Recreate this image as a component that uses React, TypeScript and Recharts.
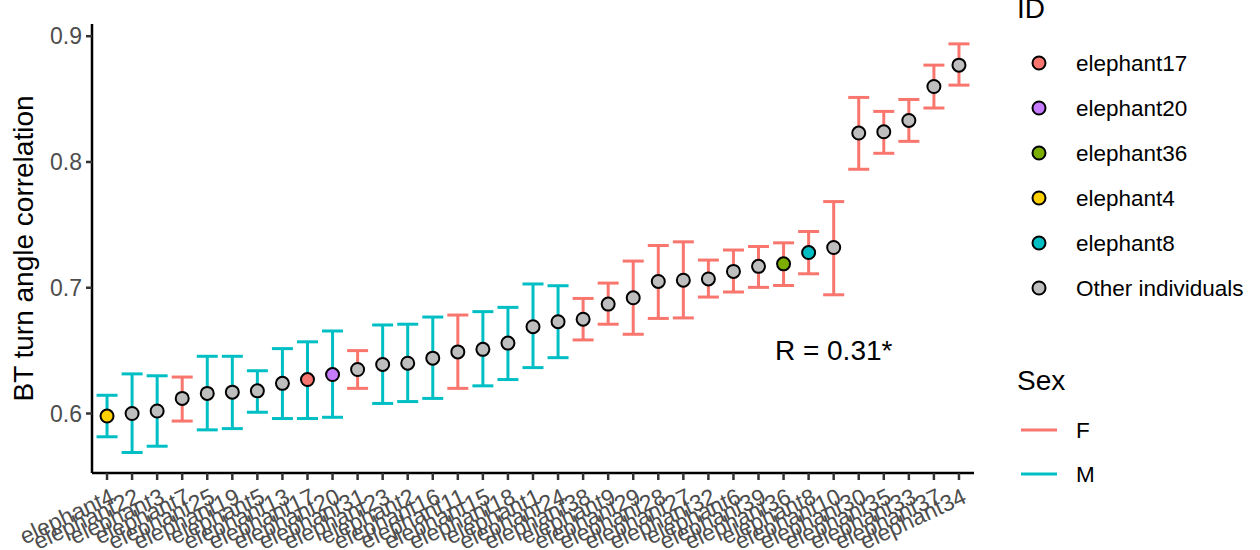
import React from 'react';
import { ComposedChart, Scatter, ErrorBar, XAxis, YAxis, ReferenceDot } from 'recharts';

const ids = ['elephant4','elephant22','elephant3','elephant7','elephant25','elephant19','elephant5','elephant13','elephant17','elephant20','elephant31','elephant23','elephant2','elephant16','elephant11','elephant15','elephant18','elephant1','elephant24','elephant38','elephant9','elephant29','elephant28','elephant27','elephant32','elephant6','elephant39','elephant36','elephant8','elephant10','elephant30','elephant35','elephant33','elephant37','elephant34'];
const sexes = ['M','M','M','F','M','M','M','M','M','M','F','M','M','M','F','M','M','M','M','F','F','F','F','F','F','F','F','F','F','F','F','F','F','F','F'];
const values = [0.598,0.600,0.602,0.612,0.616,0.617,0.618,0.624,0.627,0.631,0.635,0.639,0.640,0.644,0.649,0.651,0.656,0.669,0.673,0.675,0.687,0.692,0.705,0.706,0.707,0.713,0.717,0.719,0.728,0.732,0.823,0.824,0.833,0.860,0.877];
const lower = [0.5815,0.569,0.574,0.594,0.587,0.588,0.601,0.596,0.596,0.597,0.620,0.608,0.6095,0.612,0.620,0.622,0.627,0.6365,0.6444,0.6585,0.671,0.663,0.6756,0.676,0.6926,0.6966,0.7003,0.7018,0.7111,0.6944,0.7942,0.8069,0.8164,0.8429,0.8611];
const upper = [0.6145,0.6315,0.630,0.629,0.6455,0.6455,0.634,0.6516,0.657,0.6656,0.650,0.6704,0.671,0.6767,0.6783,0.681,0.6844,0.703,0.7016,0.6915,0.7037,0.7212,0.7336,0.7365,0.722,0.730,0.7328,0.7357,0.7447,0.7685,0.8513,0.8402,0.8497,0.877,0.8939];

const highlightIds = ['elephant17','elephant20','elephant36','elephant4','elephant8'];
const highlightColors = ['#F8766D','#C77CFF','#7CAE00','#FFD000','#00BFC4'];
const otherLabel = 'Other individuals';
const otherColor = '#BEBEBE';

const sexLevels = ['F','M'];
const sexColors = ['#F8766D','#00BFC4'];

const yTicks = [0.6, 0.7, 0.8, 0.9];
const annotation = 'R = 0.31*';
const annotX = 30;
const annotY = 0.65;

const FONT = '"Liberation Sans", Arial, Helvetica, sans-serif';

const rows = ids.map((id, i) => {
  const h = highlightIds.indexOf(id);
  return {
    idx: i + 1,
    id,
    sex: sexes[i],
    value: values[i],
    err: [values[i] - lower[i], upper[i] - values[i]],
    color: h >= 0 ? highlightColors[h] : otherColor,
  };
});

const xTicks = ids.map((_, i) => i + 1);

const XTick = (props: any) => {
  const { x, y, payload } = props;
  const label = ids[Math.round(payload.value) - 1] ?? '';
  return (
    <g transform={`translate(${x + 2},${y + 5})`}>
      <text
        x={0}
        y={0}
        dy="0.72em"
        textAnchor="end"
        transform="rotate(-25)"
        fill="#4D4D4D"
        fontSize={23}
        fontFamily={FONT}
      >
        {label}
      </text>
    </g>
  );
};

const Dot = (props: any) => {
  const { cx, cy, payload } = props;
  if (cx == null || cy == null) return <g />;
  return <circle cx={cx} cy={cy} r={6.5} fill={payload.color} stroke="#000" strokeWidth={2} />;
};

const Hidden = () => <g />;

const YTitle = (props: any) => {
  const vb = props.viewBox || { y: 24, height: 449 };
  const cy = vb.y + vb.height / 2;
  const cx = 23;
  return (
    <text
      x={cx}
      y={cy}
      transform={`rotate(-90, ${cx}, ${cy})`}
      textAnchor="middle"
      dominantBaseline="central"
      fontSize={28}
      fontFamily={FONT}
      fill="#000"
    >
      BT turn angle correlation
    </text>
  );
};

const Legends = () => {
  const legendItems = [...highlightIds, otherLabel];
  const legendCols = [...highlightColors, otherColor];
  return (
    <svg
      width={250}
      height={550}
      style={{ position: 'absolute', left: 1010, top: 0, overflow: 'hidden' }}
    >
      <text x={7} y={18} fontSize={28} fontFamily={FONT} fill="#000">ID</text>
      {legendItems.map((name, i) => (
        <g key={name}>
          <circle cx={29} cy={63 + i * 45} r={6.5} fill={legendCols[i]} stroke="#000" strokeWidth={2} />
          <text x={66} y={63 + i * 45} dominantBaseline="central" fontSize={22.5} fontFamily={FONT} fill="#000">
            {name}
          </text>
        </g>
      ))}
      <text x={7} y={390} fontSize={28} fontFamily={FONT} fill="#000">Sex</text>
      {sexLevels.map((s, i) => (
        <g key={s}>
          <line x1={11} x2={47} y1={430 + i * 44} y2={430 + i * 44} stroke={sexColors[i]} strokeWidth={3} />
          <text x={66} y={430 + i * 44} dominantBaseline="central" fontSize={22.5} fontFamily={FONT} fill="#000">
            {s}
          </text>
        </g>
      ))}
    </svg>
  );
};

export default function App() {
  return (
    <div style={{ position: 'absolute', left: 0, top: 0, width: 1260, height: 550, background: '#fff', overflow: 'hidden' }}>
      <ComposedChart
        width={1260}
        height={550}
        margin={{ top: 24, right: 286, bottom: 0, left: 0 }}
        style={{ fontFamily: FONT }}
      >
        <XAxis
          type="number"
          dataKey="idx"
          domain={[0.4, ids.length + 0.6]}
          ticks={xTicks}
          interval={0}
          height={77}
          tick={<XTick />}
          tickLine={{ stroke: '#333333', strokeWidth: 2.5 }}
          tickSize={7}
          axisLine={{ stroke: '#000', strokeWidth: 2.5 }}
          allowDataOverflow
        />
        <YAxis
          type="number"
          dataKey="value"
          domain={[0.5527, 0.9097]}
          ticks={yTicks}
          width={92}
          interval={0}
          allowDataOverflow
          tickFormatter={(v: number) => v.toFixed(1)}
          tick={{ fill: '#4D4D4D', fontSize: 23, fontFamily: FONT }}
          tickLine={{ stroke: '#333333', strokeWidth: 2.5 }}
          tickSize={6}
          tickMargin={4}
          axisLine={{ stroke: '#000', strokeWidth: 2.5 }}
          label={{ content: (p: any) => <YTitle {...p} /> }}
        />
        {sexLevels.map((s, i) => (
          <Scatter
            key={s}
            name={s}
            data={rows.filter((r) => r.sex === s)}
            shape={<Hidden />}
            isAnimationActive={false}
          >
            <ErrorBar dataKey="err" direction="y" width={10.5} stroke={sexColors[i]} strokeWidth={3} isAnimationActive={false} />
          </Scatter>
        ))}
        <Scatter name="points" data={rows} shape={<Dot />} isAnimationActive={false} zIndex={900} />
        <ReferenceDot
          x={annotX}
          y={annotY}
          r={0}
          shape={(p: any) => (
            <text x={p.cx} y={p.cy} textAnchor="middle" dominantBaseline="central" fontSize={28} fontFamily={FONT} fill="#000">
              {annotation}
            </text>
          )}
        />
      </ComposedChart>
      <Legends />
    </div>
  );
}
